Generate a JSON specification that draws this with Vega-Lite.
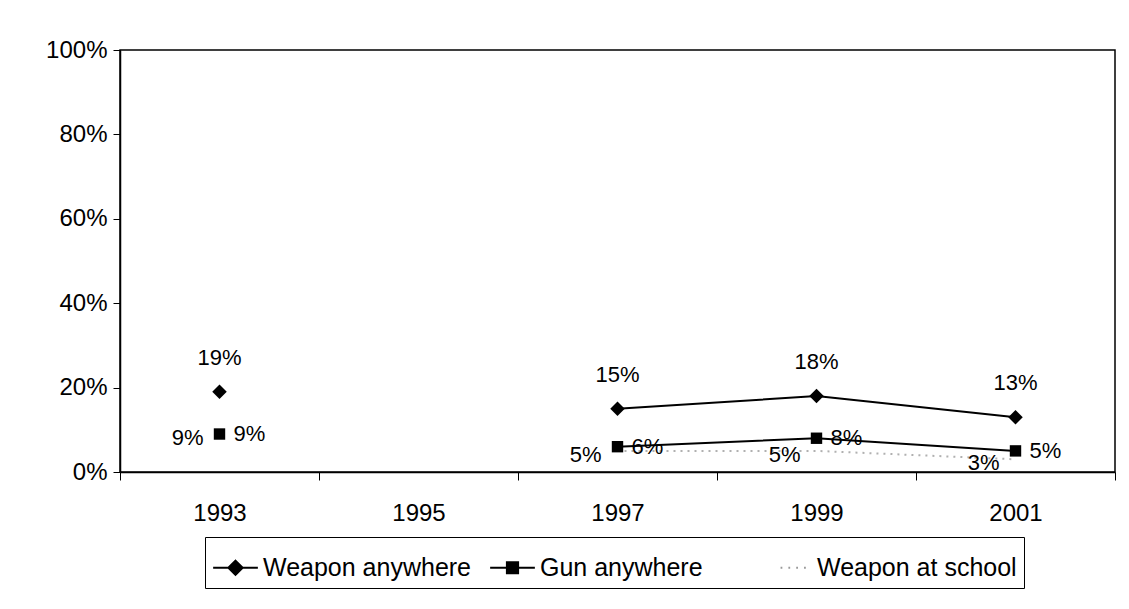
{
  "$schema": "https://vega.github.io/schema/vega-lite/v6.json",
  "autosize": "none",
  "width": 995,
  "height": 422,
  "padding": {"left": 120, "top": 50, "right": 14, "bottom": 137},
  "background": "white",
  "config": {
    "font": "Liberation Sans",
    "view": {"stroke": "black", "strokeWidth": 1.5},
    "axis": {"labelFont": "Liberation Sans", "labelColor": "black", "domainColor": "black", "tickColor": "black", "grid": false, "title": null}
  },
  "data": {
    "values": [
      {"series": "Weapon anywhere", "year": "1993", "value": 0.19},
      {"series": "Weapon anywhere", "year": "1997", "value": 0.15},
      {"series": "Weapon anywhere", "year": "1999", "value": 0.18},
      {"series": "Weapon anywhere", "year": "2001", "value": 0.13},
      {"series": "Gun anywhere", "year": "1993", "value": 0.09},
      {"series": "Gun anywhere", "year": "1997", "value": 0.06},
      {"series": "Gun anywhere", "year": "1999", "value": 0.08},
      {"series": "Gun anywhere", "year": "2001", "value": 0.05},
      {"series": "Weapon at school", "year": "1993", "value": 0.09},
      {"series": "Weapon at school", "year": "1997", "value": 0.05},
      {"series": "Weapon at school", "year": "1999", "value": 0.05},
      {"series": "Weapon at school", "year": "2001", "value": 0.03}
    ]
  },
  "encoding": {
    "x": {
      "field": "year", "type": "ordinal",
      "scale": {"type": "band", "domain": ["1993", "1995", "1997", "1999", "2001"], "paddingInner": 0, "paddingOuter": 0},
      "axis": {"labelAngle": 0, "labelFontSize": 24, "tickBand": "extent", "tickSize": 8, "labelPadding": 21, "domainWidth": 1.5}
    },
    "y": {
      "field": "value", "type": "quantitative",
      "scale": {"domain": [0, 1]},
      "axis": {"format": ".0%", "values": [0, 0.2, 0.4, 0.6, 0.8, 1], "labelFontSize": 24, "tickSize": 7, "labelPadding": 6, "domainWidth": 1.5}
    }
  },
  "layer": [
    {
      "transform": [{"filter": "datum.series == 'Weapon at school' && datum.year != '1993'"}],
      "mark": {"type": "line", "stroke": "#b0b0b0", "strokeWidth": 2, "strokeDash": [2, 5]}
    },
    {
      "transform": [{"filter": "datum.series == 'Weapon anywhere' && datum.year != '1993'"}],
      "mark": {"type": "line", "stroke": "black", "strokeWidth": 2}
    },
    {
      "transform": [{"filter": "datum.series == 'Gun anywhere' && datum.year != '1993'"}],
      "mark": {"type": "line", "stroke": "black", "strokeWidth": 2}
    },
    {
      "transform": [{"filter": "datum.series == 'Weapon anywhere'"}],
      "mark": {"type": "point", "shape": "diamond", "filled": true, "color": "black", "size": 210, "opacity": 1}
    },
    {
      "transform": [{"filter": "datum.series == 'Gun anywhere'"}],
      "mark": {"type": "point", "shape": "square", "filled": true, "color": "black", "size": 130, "opacity": 1}
    },
    {
      "transform": [{"filter": "datum.series == 'Weapon anywhere'"}],
      "mark": {"type": "text", "fontSize": 22, "dy": -34, "color": "black"},
      "encoding": {"text": {"field": "value", "type": "quantitative", "format": ".0%"}}
    },
    {
      "transform": [{"filter": "datum.series == 'Gun anywhere'"}],
      "mark": {"type": "text", "fontSize": 22, "dx": 14, "align": "left", "color": "black"},
      "encoding": {"text": {"field": "value", "type": "quantitative", "format": ".0%"}}
    },
    {
      "transform": [{"filter": "datum.series == 'Weapon at school'"}],
      "mark": {"type": "text", "fontSize": 22, "dx": -16, "align": "right", "dy": 4, "color": "black"},
      "encoding": {"text": {"field": "value", "type": "quantitative", "format": ".0%"}}
    },
    {
      "transform": [{"filter": "datum.value < 0"}],
      "mark": {"type": "point", "opacity": 1},
      "encoding": {
        "shape": {
          "field": "series", "type": "nominal",
          "scale": {
            "domain": ["Weapon anywhere", "Gun anywhere", "Weapon at school"],
            "range": [
              "M-1,0L1,0M0,-0.32L0.32,0L0,0.32L-0.32,0Z",
              "M-1,0L1,0M-0.25,-0.25L0.25,-0.25L0.25,0.25L-0.25,0.25Z",
              "M-0.4,0L-0.32,0M-0.05,0L0.03,0M0.3,0L0.38,0M0.65,0L0.73,0"
            ]
          },
          "legend": {
            "orient": "none", "legendX": 85, "legendY": 487, "direction": "horizontal", "title": null,
            "strokeColor": "black", "fillColor": "white", "padding": 7, "gridAlign": "all",
            "labelFontSize": 25, "labelFont": "Liberation Sans", "labelColor": "black", "labelLimit": 0,
            "symbolSize": 2000, "symbolStrokeWidth": 2, "columnPadding": 14, "labelOffset": 4, "symbolOpacity": 1
          }
        },
        "fill": {
          "field": "series", "type": "nominal",
          "scale": {"domain": ["Weapon anywhere", "Gun anywhere", "Weapon at school"], "range": ["black", "black", "transparent"]},
          "legend": null
        },
        "stroke": {
          "field": "series", "type": "nominal",
          "scale": {"domain": ["Weapon anywhere", "Gun anywhere", "Weapon at school"], "range": ["black", "black", "#999999"]},
          "legend": null
        }
      }
    }
  ]
}
